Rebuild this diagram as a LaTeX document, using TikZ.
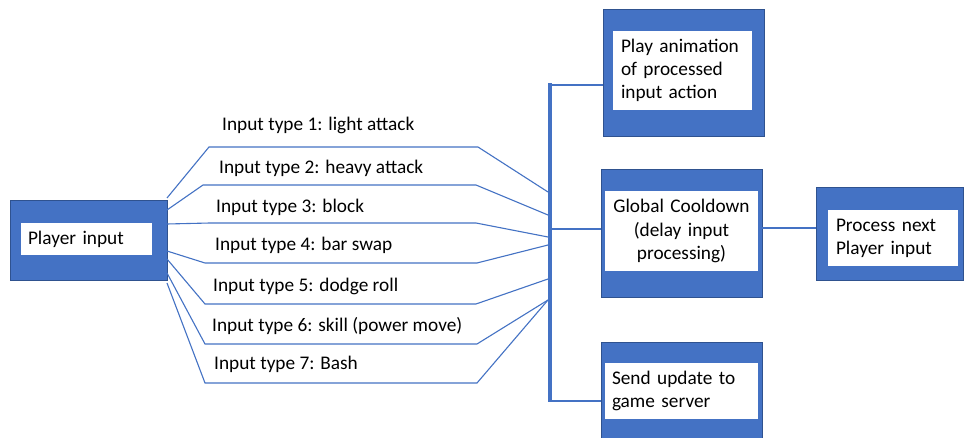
\documentclass[tikz,border=0pt]{standalone}
\usepackage{fontspec}
\setmainfont{Carlito}
\definecolor{obl}{HTML}{4472C4}
\definecolor{oedge}{HTML}{2F528F}
\newcommand\diagfont{\fontsize{19.3}{23.2}\selectfont}
\begin{document}
\begin{tikzpicture}[x=1pt,y=-1pt,
  outerbox/.style={draw=oedge, line width=0.8pt, fill=obl, inner sep=0pt, outer sep=0pt},
  innerbox/.style={fill=white, inner ysep=0pt, outer sep=0pt, font=\diagfont, align=left},
  conn/.style={draw=obl, line width=1.1pt},
  lbl/.style={anchor=base west, inner sep=0pt, font=\diagfont},
]
\useasboundingbox (0,0) rectangle (964,438);
\fill[white] (0,0) rectangle (964,438);

% Player input
\node[outerbox, minimum width=157, minimum height=80] (pi) at (88.5,240) {};
\node[innerbox, minimum width=131, minimum height=32, inner xsep=7pt, text width=117pt] (pit) at (86.5,239) {Player input};

% Play animation
\node[outerbox, minimum width=161, minimum height=127] (pa) at (683.5,72.5) {};
\node[innerbox, minimum width=139, minimum height=79, inner xsep=8pt, text width=123pt] (pat) at (682.5,70.5) {Play animation\\of processed\\input action};

% Global cooldown
\node[outerbox, minimum width=161, minimum height=128] (gc) at (681.5,233) {};
\node[innerbox, minimum width=153, minimum height=80, inner xsep=2pt, text width=149pt, align=center] (gct) at (681.5,231) {Global Cooldown\\(delay input\\processing)};

% Process next
\node[outerbox, minimum width=147, minimum height=93] (pn) at (889.5,233.5) {};
\node[innerbox, minimum width=130, minimum height=56, inner xsep=8pt, text width=114pt] (pnt) at (893,238) {Process next\\Player input};

% Send update
\node[outerbox, minimum width=161, minimum height=100] (su) at (681.5,392) {};
\node[innerbox, minimum width=153, minimum height=56, inner xsep=7pt, text width=139pt] (sut) at (681.5,391) {Send update to\\game server};

% vertical bar
\node[fill=obl, minimum width=4, minimum height=319, inner sep=0pt, outer sep=0pt] (bar) at (550,242.5) {};

% bar to boxes
\draw[conn] (bar.east |- 0,85) -- (pa.west |- 0,85);
\draw[conn] (bar.east |- 0,229) -- (gc.west |- 0,229);
\draw[conn] (bar.west |- 0,401) -- (su.west |- 0,401);
\draw[conn] (gc.east |- 0,228) -- (pn.west |- 0,228);

% input type connectors
\draw[conn] (pi.east |- 0,198) -- (209,147) -- (478,147) -- (bar.west |- 0,192);
\draw[conn] (pi.east |- 0,210) -- (203,185) -- (476,185) -- (bar.west |- 0,215);
\draw[conn] (pi.east |- 0,224) -- (210,223) -- (476,223) -- (bar.west |- 0,237);
\draw[conn] (pi.east |- 0,251) -- (205,263) -- (477,263) -- (bar.west |- 0,245);
\draw[conn] (pi.east |- 0,259) -- (205,304) -- (476,304) -- (bar.west |- 0,279);
\draw[conn] (pi.east |- 0,273) -- (205,344) -- (477,344) -- (bar.west |- 0,300);
\draw[conn] (pi.east |- 0,283) -- (205,383) -- (477,383) -- (bar.west |- 0,300);

% labels
\node[lbl] (t1) at (222,130.5) {Input type 1: light attack};
\node[lbl] (t2) at (219,174) {Input type 2: heavy attack};
\node[lbl] (t3) at (216,212.5) {Input type 3: block};
\node[lbl] (t4) at (215,250.5) {Input type 4: bar swap};
\node[lbl] (t5) at (213,291.5) {Input type 5: dodge roll};
\node[lbl] (t6) at (212,332) {Input type 6: skill (power move)};
\node[lbl] (t7) at (214,369) {Input type 7: Bash};
\end{tikzpicture}
\end{document}
